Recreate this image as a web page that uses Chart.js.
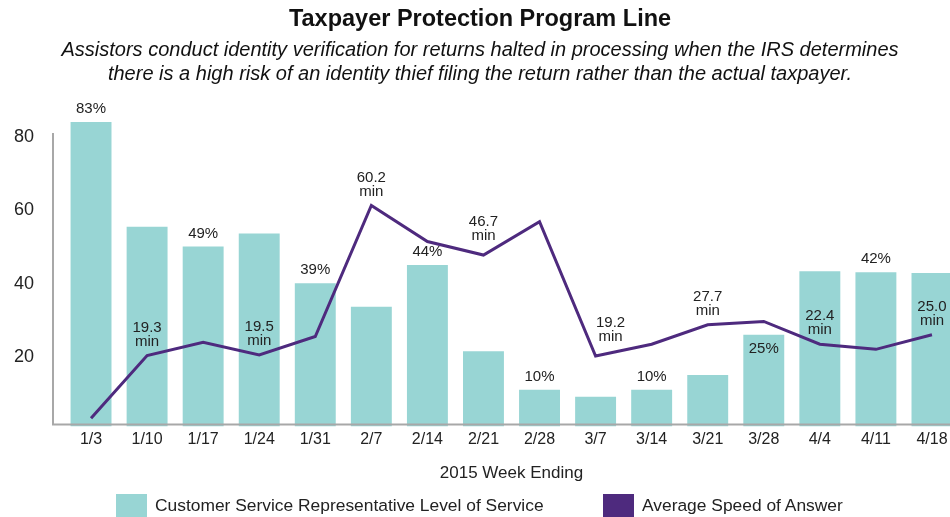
<!DOCTYPE html>
<html>
<head>
<meta charset="utf-8">
<script src="https://cdn.jsdelivr.net/npm/chart.js@4.4.1/dist/chart.umd.min.js"></script>
<style>
  html, body { margin: 0; padding: 0; background: #fff; overflow: hidden; }
  #wrap { position: relative; width: 960px; height: 517px; }
  .legend { position: absolute; top: 494px; font: 17.4px "Liberation Sans", Arial, sans-serif; color: #222; white-space: nowrap; }
  .legend span.box { position: absolute; left: 0; top: 0; width: 31px; height: 23px; }
  .legend span.txt { position: absolute; left: 39px; top: 1px; line-height: 21px; }
</style>
</head>
<body>
<div id="wrap">
  <canvas id="myChart"></canvas>
  <div class="legend" style="left:116px"><span class="box" style="background:#98D5D4"></span><span class="txt">Customer Service Representative Level of Service</span></div>
  <div class="legend" style="left:603px"><span class="box" style="background:#4E2A7E"></span><span class="txt">Average Speed of Answer</span></div>
</div>
<script>
const weeks = ['1/3', '1/10', '1/17', '1/24', '1/31', '2/7', '2/14', '2/21',
    '2/28', '3/7', '3/14', '3/21', '3/28', '4/4', '4/11', '4/18'];

// level of service (%)
const levelOfService = [83, 54.4, 49, 52.6, 39, 32.6, 44, 20.5, 10, 8.1, 10, 14, 25, 42.3, 42, 41.8];

// average speed of answer (minutes)
const speedOfAnswer = [2.2, 19.3, 22.9, 19.5, 24.5, 60.2, 50.4, 46.7, 55.8, 19.2, 22.4, 27.7, 28.6, 22.4, 21.0, 25.0];

const barLabels = ['83%', null, '49%', null, '39%', null, '44%', null, '10%', null, '10%', null, '25%', null, '42%', null];
const lineLabels = [null, '19.3', null, '19.5', null, '60.2', null, '46.7', null, '19.2', null, '27.7', null, '22.4', null, '25.0'];

const yTicks = [20, 40, 60, 80];

const TEAL = '#98D5D4';
const PURPLE = '#4E2A7E';
const TEXT = '#222';
const FONT = '"Liberation Sans", Arial, sans-serif';

// axis lines + value labels
const extras = {
    id: 'extras',
    afterDatasetsDraw(chart) {
        const ctx = chart.ctx;
        const area = chart.chartArea;
        const y = chart.scales.y;
        ctx.save();
        ctx.strokeStyle = '#A8A8A8';
        ctx.lineWidth = 2;
        ctx.beginPath();
        ctx.moveTo(53, y.getPixelForValue(80));
        ctx.lineTo(53, area.bottom - 2);
        ctx.lineTo(area.right, area.bottom - 2);
        ctx.stroke();

        ctx.fillStyle = TEXT;
        ctx.font = '15px ' + FONT;
        ctx.textAlign = 'center';
        ctx.textBaseline = 'middle';

        const bars = chart.getDatasetMeta(0).data;
        barLabels.forEach((t, i) => {
            if (!t) return;
            const b = bars[i];
            // the 25% label sits inside its bar
            const yy = t === '25%' ? b.y + 14 : b.y - 13;
            ctx.fillText(t, b.x, yy);
        });

        const pts = chart.getDatasetMeta(1).data;
        lineLabels.forEach((t, i) => {
            if (!t) return;
            const p = pts[i];
            const gap = (i === 7 || i === 9) ? 19 : 14;
            const dx = i === 9 ? 15 : 0;
            ctx.fillText(t, p.x + dx, p.y - gap - 14);
            ctx.fillText('min', p.x + dx, p.y - gap);
        });
        ctx.restore();
    }
};

const data = {
    labels: weeks,
    datasets: [{
        type: 'bar',
        label: 'Customer Service Representative Level of Service',
        data: levelOfService,
        backgroundColor: TEAL,
        barPercentage: 0.73,
        categoryPercentage: 1,
        order: 2
    }, {
        type: 'line',
        label: 'Average Speed of Answer',
        data: speedOfAnswer,
        borderColor: PURPLE,
        borderWidth: 3,
        pointRadius: 0,
        tension: 0,
        order: 1
    }]
};

const config = {
    data: data,
    options: {
        responsive: true,
        maintainAspectRatio: false,
        animation: false,
        layout: { padding: { left: 0, right: 0, top: 0, bottom: 29 } },
        plugins: {
            legend: { display: false },
            tooltip: { enabled: false },
            title: {
                display: true,
                text: 'Taxpayer Protection Program Line',
                color: '#111',
                font: { family: FONT, size: 23.5, weight: 'bold', lineHeight: 1.2 },
                padding: { top: 5, bottom: 4 }
            },
            subtitle: {
                display: true,
                text: ['Assistors conduct identity verification for returns halted in processing when the IRS determines',
                       'there is a high risk of an identity thief filing the return rather than the actual taxpayer.'],
                color: '#111',
                font: { family: FONT, size: 20, style: 'italic', lineHeight: 1.2 },
                padding: { top: 1, bottom: 10 }
            }
        },
        scales: {
            x: {
                grid: { display: false, drawTicks: false },
                border: { display: false },
                ticks: { color: TEXT, font: { family: FONT, size: 16 }, padding: 4, maxRotation: 0, autoSkip: false },
                title: {
                    display: true,
                    text: '2015 Week Ending',
                    color: TEXT,
                    font: { family: FONT, size: 17 },
                    padding: { top: 10, bottom: 4 }
                }
            },
            y: {
                min: 0,
                max: 90,
                grid: { display: false, drawTicks: false },
                border: { display: false },
                ticks: { color: TEXT, font: { family: FONT, size: 18 }, padding: 29, labelOffset: 4 },
                afterBuildTicks(scale) {
                    scale.ticks = yTicks.map(v => ({ value: v }));
                },
                afterFit(scale) {
                    scale.width = 63;
                }
            }
        }
    },
    plugins: [extras]
};

const myChart = new Chart(document.getElementById('myChart'), config);
</script>
</body>
</html>
